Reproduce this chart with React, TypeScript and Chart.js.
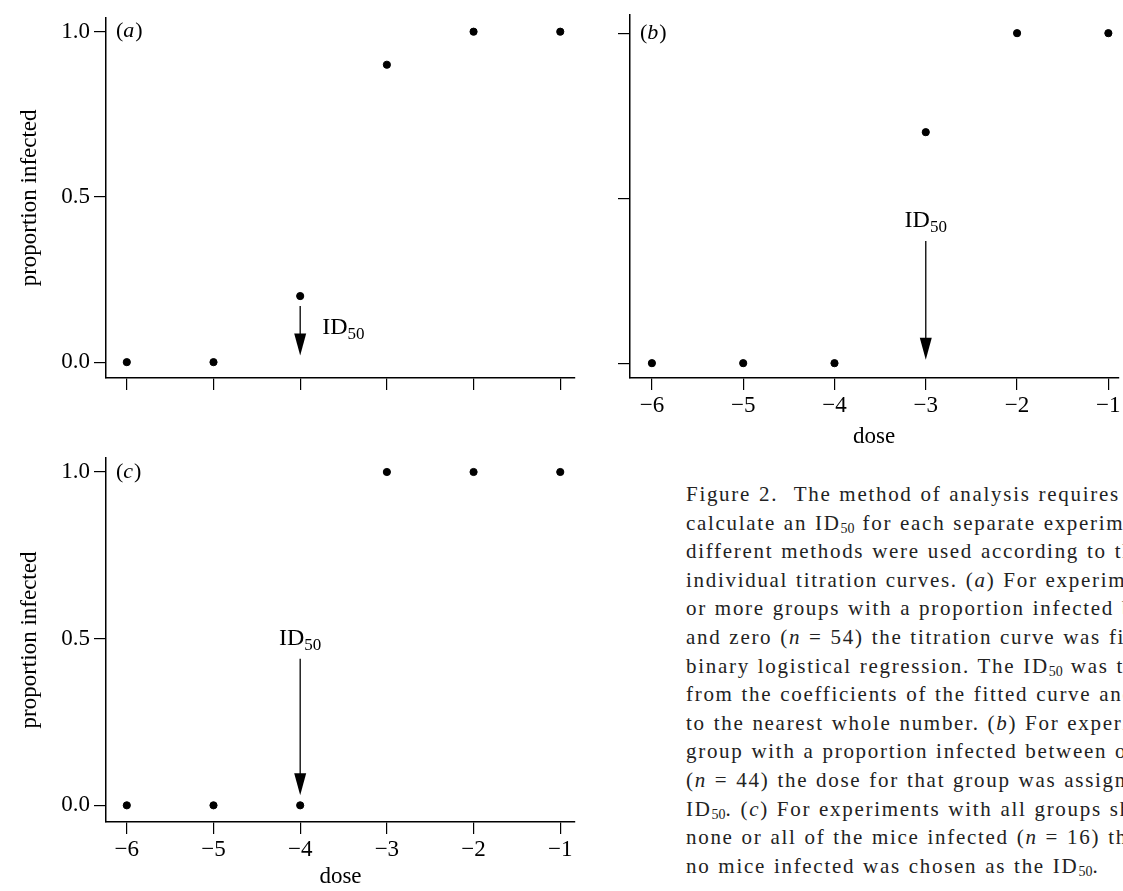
import React, { useEffect, useRef } from "react";
import { Chart, registerables } from "chart.js";
Chart.register(...registerables);

const doses = [-6, -5, -4, -3, -2, -1];
const propA = [0, 0, 0.2, 0.9, 1, 1];
const propB = [0, 0, 0, 0.7, 1, 1];
const propC = [0, 0, 0, 1, 1, 1];
const yTicks = [0, 0.5, 1];
const xTicks = [-6, -5, -4, -3, -2, -1];
const FONT = "'Liberation Serif', 'DejaVu Serif', serif";

type Panel = {
  label: string; values: number[]; showYLabels: boolean; showXLabels: boolean;
  arrowX: number; arrowFrom: number; arrowTo: number; idPos: "right" | "above";
  yMin: number; yMax: number; xMin: number; xMax: number;
  yWidth: number; xHeight: number; padTop: number; padRight: number; padLeft: number;
};

const panels: (Panel & { left: number; top: number; w: number; h: number })[] = [
  { label: "a", values: propA, showYLabels: true, showXLabels: false, arrowX: -4, arrowFrom: 0.17, arrowTo: 0.02, idPos: "right",
    yMin: -0.048, yMax: 1.042, xMin: -6.24, xMax: -0.83, yWidth: 90, xHeight: 42, padTop: 15, padRight: 5, padLeft: 16, left: 0, top: 0, w: 580, h: 420 },
  { label: "b", values: propB, showYLabels: false, showXLabels: true, arrowX: -3, arrowFrom: 0.37, arrowTo: 0.01, idPos: "above",
    yMin: -0.045, yMax: 1.055, xMin: -6.24, xMax: -0.89, yWidth: 50, xHeight: 73, padTop: 15, padRight: 0, padLeft: 0, left: 580, top: 0, w: 543, h: 451 },
  { label: "c", values: propC, showYLabels: true, showXLabels: true, arrowX: -4, arrowFrom: 0.44, arrowTo: 0.03, idPos: "above",
    yMin: -0.05, yMax: 1.042, xMin: -6.24, xMax: -0.83, yWidth: 90, xHeight: 69, padTop: 18, padRight: 5, padLeft: 16, left: 0, top: 440, w: 580, h: 451 },
];

function PanelChart({ p }: { p: typeof panels[number] }) {
  const ref = useRef<HTMLCanvasElement>(null);
  useEffect(() => {
    const deco = {
      id: "deco",
      afterDraw(chart: any) {
        const ctx = chart.ctx;
        const xs = chart.scales.x, ys = chart.scales.y;
        ctx.save();
        ctx.fillStyle = "#000"; ctx.strokeStyle = "#000";
        ctx.textBaseline = "middle";
        ctx.font = `22px ${FONT}`;
        let tx = chart.chartArea.left + 10;
        const ty = ys.getPixelForValue(1);
        ctx.fillText("(", tx, ty); tx += ctx.measureText("(").width;
        ctx.font = `italic 22px ${FONT}`;
        ctx.fillText(p.label, tx, ty); tx += ctx.measureText(p.label).width + 1;
        ctx.font = `22px ${FONT}`;
        ctx.fillText(")", tx, ty);
        const ax = xs.getPixelForValue(p.arrowX);
        const y0 = ys.getPixelForValue(p.arrowFrom);
        const y1 = ys.getPixelForValue(p.arrowTo);
        ctx.lineWidth = 1.3;
        ctx.beginPath(); ctx.moveTo(ax, y0); ctx.lineTo(ax, y1 - 20); ctx.stroke();
        ctx.beginPath(); ctx.moveTo(ax - 6, y1 - 22); ctx.lineTo(ax + 6, y1 - 22); ctx.lineTo(ax, y1); ctx.closePath(); ctx.fill();
        ctx.font = `24px ${FONT}`;
        const w1 = ctx.measureText("ID").width;
        ctx.font = `17px ${FONT}`;
        const w2 = ctx.measureText("50").width;
        let lx: number, ly: number;
        if (p.idPos === "right") { lx = ax + 22; ly = y0 + 28; }
        else { lx = ax - (w1 + w2) / 2; ly = y0 - 14; }
        ctx.textBaseline = "alphabetic";
        ctx.font = `24px ${FONT}`;
        ctx.fillText("ID", lx, ly);
        ctx.font = `17px ${FONT}`;
        ctx.fillText("50", lx + w1, ly + 5);
        ctx.restore();
      },
    };
    const chart = new Chart(ref.current!, {
      type: "scatter",
      data: { datasets: [{ data: doses.map((d, i) => ({ x: d, y: p.values[i] })), backgroundColor: "#000", borderColor: "#000", pointRadius: 3.6, pointHoverRadius: 3.6 }] },
      options: {
        animation: false, responsive: false, maintainAspectRatio: false,
        layout: { padding: { top: p.padTop, right: p.padRight, left: p.padLeft, bottom: 0 } },
        plugins: { legend: { display: false }, tooltip: { enabled: false } },
        scales: {
          x: {
            type: "linear", min: p.xMin, max: p.xMax,
            afterBuildTicks: (s: any) => { s.ticks = xTicks.map((v) => ({ value: v })); },
            afterFit: (s: any) => { s.height = p.xHeight; },
            border: { display: true, color: "#000", width: 1.5 },
            grid: { drawOnChartArea: false, drawTicks: true, tickLength: 12, color: "#000", lineWidth: 1.2 },
            ticks: { display: p.showXLabels, color: "#000", font: { family: FONT, size: 23 }, padding: 2, callback: (v: any) => String(v).replace("-", "\u2212") },
            title: { display: p.showXLabels, text: "dose", color: "#000", font: { family: FONT, size: 23 }, padding: { top: 0, bottom: 0 } },
          },
          y: {
            type: "linear", min: p.yMin, max: p.yMax,
            afterBuildTicks: (s: any) => { s.ticks = yTicks.map((v) => ({ value: v })); },
            afterFit: (s: any) => { s.width = p.yWidth; },
            border: { display: true, color: "#000", width: 1.5 },
            grid: { drawOnChartArea: false, drawTicks: true, tickLength: 12, color: "#000", lineWidth: 1.2 },
            ticks: { display: p.showYLabels, color: "#000", font: { family: FONT, size: 23 }, padding: 4, callback: (v: any) => Number(v).toFixed(1) },
            title: { display: p.showYLabels, text: "proportion infected", color: "#000", font: { family: FONT, size: 23 }, padding: { top: 0, bottom: 0 } },
          },
        },
      },
      plugins: [deco],
    } as any);
    return () => chart.destroy();
  }, [p]);
  return (
    <canvas ref={ref} width={p.w} height={p.h}
      style={{ position: "absolute", left: p.left, top: p.top, width: p.w, height: p.h }} />
  );
}

const sub = (t: string) => <sub style={{ fontSize: "14px", verticalAlign: "-3px", lineHeight: 0, letterSpacing: 0 }}>{t}</sub>;

export default function App() {
  return (
    <div style={{ position: "absolute", left: 0, top: 0, width: 1123, height: 891, overflow: "hidden", background: "#fff" }}>
      {panels.map((p) => <PanelChart key={p.label} p={p} />)}
      <div style={{ position: "absolute", left: 686, top: 480, whiteSpace: "nowrap", fontFamily: FONT, fontSize: 21, letterSpacing: "1.7px", wordSpacing: "1px", lineHeight: "28.6px", color: "#222" }}>
        <div>Figure 2.&nbsp; The method of analysis requires one to</div>
        <div>calculate an ID{sub("50")} for each separate experiment. Three</div>
        <div>different methods were used according to the shape of</div>
        <div>individual titration curves. (<i>a</i>) For experiments with one</div>
        <div>or more groups with a proportion infected between one</div>
        <div>and zero (<i>n</i> = 54) the titration curve was fitted by</div>
        <div>binary logistical regression. The ID{sub("50")} was then calculated</div>
        <div>from the coefficients of the fitted curve and rounded</div>
        <div>to the nearest whole number. (<i>b</i>) For experiments with one</div>
        <div>group with a proportion infected between one and zero</div>
        <div>(<i>n</i> = 44) the dose for that group was assigned as the</div>
        <div>ID{sub("50")}. (<i>c</i>) For experiments with all groups showing</div>
        <div>none or all of the mice infected (<i>n</i> = 16) the lowest dose with</div>
        <div>no mice infected was chosen as the ID{sub("50")}.</div>
      </div>
    </div>
  );
}
